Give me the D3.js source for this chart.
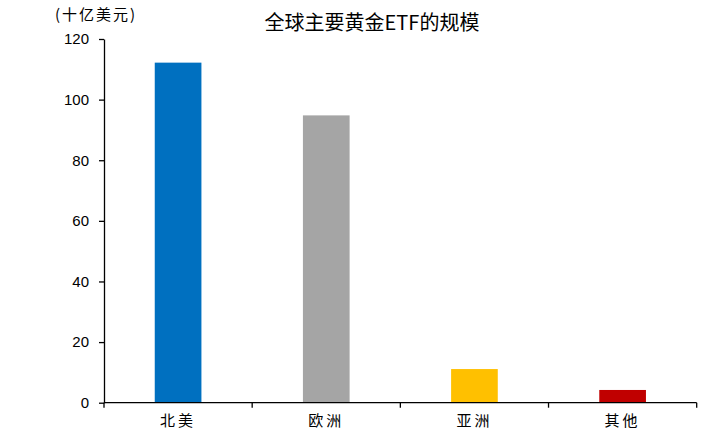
<!DOCTYPE html>
<html><head><meta charset="utf-8">
<script src="https://cdn.jsdelivr.net/npm/d3@7"></script>
<style>body{margin:0;background:#fff}</style>
</head><body>
<script>
const categories = ["北美", "欧洲", "亚洲", "其他"];
const values = [112.2, 94.8, 11.1, 4.2];
const colors = ["#0070C0", "#A5A5A5", "#FFC000", "#C00000"];
const yTicks = [0, 20, 40, 60, 80, 100, 120];
const title = "全球主要黄金ETF的规模";
const unit = "(十亿美元)";

const W = 707, H = 433;
const svg = d3.select("body").append("svg").attr("width", W).attr("height", H);
const m = {l: 104, r: 10.3, t: 39, b: 30.3};
const x = d3.scaleBand().domain(categories).range([m.l, W - m.r]).paddingInner(0.685).paddingOuter(0.3425);
const xb = d3.scaleBand().domain(categories).range([m.l, W - m.r]);
const y = d3.scaleLinear().domain([0, 120]).range([H - m.b, m.t]);
const cjk = "'Noto Sans CJK SC', sans-serif";
const num = "'Liberation Sans', Arial, sans-serif";

svg.append("g").selectAll("rect").data(values).join("rect")
  .attr("x", (d, i) => x(categories[i]))
  .attr("width", x.bandwidth())
  .attr("y", d => y(d))
  .attr("height", d => y(0) - y(d))
  .attr("fill", (d, i) => colors[i]);

const ya = svg.append("g").attr("transform", `translate(${m.l},0)`)
  .call(d3.axisLeft(y).tickValues(yTicks).tickSize(5).tickPadding(10).tickSizeOuter(0));
ya.select(".domain").attr("stroke", "#000").attr("stroke-width", 1.3);
ya.selectAll(".tick line").attr("stroke", "#000").attr("stroke-width", 1.3);
ya.selectAll("text").attr("font-family", num).attr("font-size", 15).attr("fill", "#000");

const xa = svg.append("g").attr("transform", `translate(0,${y(0)})`);
xa.append("line").attr("x1", m.l).attr("x2", W - m.r).attr("stroke", "#000").attr("stroke-width", 1.3);
const bounds = categories.map(c => xb(c)).concat([W - m.r]);
xa.selectAll("line.b").data(bounds).join("line").attr("class", "b")
  .attr("x1", d => d).attr("x2", d => d).attr("y1", 0).attr("y2", 5)
  .attr("stroke", "#000").attr("stroke-width", 1.3);
xa.selectAll("text").data(categories).join("text")
  .attr("x", d => xb(d) + xb.bandwidth() / 2).attr("y", 23)
  .attr("text-anchor", "middle").attr("font-family", cjk).attr("font-size", 15).attr("fill", "#000")
  .attr("letter-spacing", 3).text(d => d);

svg.append("text").attr("x", 372).attr("y", 30).attr("text-anchor", "middle")
  .attr("font-family", cjk).attr("font-size", 20).attr("fill", "#000").text(title);
svg.append("text").attr("x", 55).attr("y", 20).attr("font-family", cjk).attr("font-size", 15)
  .attr("fill", "#000").attr("letter-spacing", 2).text(unit);
</script>
</body></html>
